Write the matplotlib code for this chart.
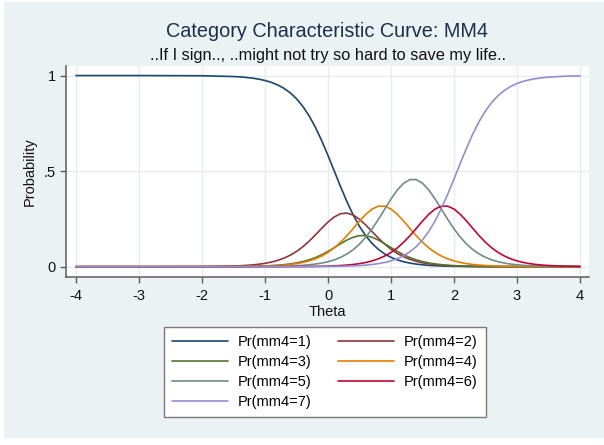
import matplotlib
matplotlib.use("Agg")
import matplotlib.pyplot as plt
from matplotlib.patches import Rectangle

plt.rcParams['font.family'] = ['Liberation Sans', 'DejaVu Sans']

# ---------------- data ----------------
theta = [-4.0, -3.0, -2.0, -1.5, -1.4, -1.3, -1.2, -1.1, -1.0, -0.9, -0.8, -0.7,
         -0.6, -0.5, -0.4, -0.3, -0.2, -0.1, 0.0, 0.1, 0.2, 0.3, 0.4, 0.5, 0.6,
         0.7, 0.8, 0.9, 1.0, 1.1, 1.2, 1.3, 1.4, 1.5, 1.6, 1.7, 1.8, 1.9, 2.0,
         2.1, 2.2, 2.3, 2.4, 2.5, 2.6, 2.7, 2.8, 2.9, 3.0, 3.1, 3.2, 3.3, 3.4,
         3.5, 3.75, 4.0]

pr_mm4_1 = [1.0, 1.0, .9990, .9949, .9930, .9902, .9865, .9813, .9742, .9644, .9512, .9334,
            .9097, .8787, .8389, .7892, .7291, .6592, .5818, .5000, .4182, .3408, .2709, .2108, .1611,
            .1213, .0903, .0666, .0488, .0356, .0258, .0187, .0135, .0098, .0070, .0051, .0037, .0026, .0019,
            .0014, .0010, .0007, .0005, .0004, .0003, .0002, .0002, .0001, .0001, 0, 0, 0, 0,
            0, 0, 0]
pr_mm4_2 = [0, 0, .0007, .0035, .0048, .0067, .0091, .0127, .0175, .0241, .0329, .0446,
            .0600, .0796, .1040, .1331, .1661, .2008, .2335, .2604, .2771, .2805, .2703, .2480, .2176,
            .1834, .1493, .1181, .0912, .0692, .0519, .0384, .0282, .0205, .0150, .0108, .0078, .0057, .0041,
            .0030, .0021, .0015, .0011, .0008, .0005, .0004, .0002, .0002, .0002, .0001, .0001, 0, 0,
            0, 0, 0]
pr_mm4_3 = [0, 0, .0001, .0008, .0010, .0015, .0022, .0029, .0039, .0055, .0076, .0105,
            .0144, .0197, .0268, .0360, .0477, .0623, .0799, .0996, .1200, .1391, .1541, .1625, .1625,
            .1541, .1391, .1200, .0996, .0799, .0623, .0477, .0360, .0268, .0197, .0144, .0105, .0076, .0055,
            .0039, .0029, .0022, .0015, .0010, .0008, .0006, .0004, .0003, .0002, .0001, .0001, .0001, .0001,
            0, 0, 0]
pr_mm4_4 = [0, 0, .0001, .0006, .0009, .0012, .0016, .0023, .0032, .0044, .0061, .0084,
            .0115, .0160, .0220, .0302, .0412, .0557, .0745, .0983, .1276, .1619, .1999, .2387, .2741,
            .3016, .3166, .3166, .3016, .2741, .2387, .1999, .1619, .1276, .0983, .0745, .0557, .0412, .0302,
            .0220, .0160, .0115, .0084, .0061, .0044, .0032, .0023, .0016, .0012, .0009, .0006, .0005, .0003,
            .0002, .0001, 0]
pr_mm4_5 = [0, 0, 0, .0002, .0003, .0003, .0005, .0007, .0010, .0014, .0019, .0027,
            .0038, .0052, .0071, .0099, .0137, .0189, .0259, .0357, .0488, .0662, .0889, .1180, .1544,
            .1979, .2476, .3010, .3540, .4012, .4366, .4557, .4557, .4366, .4012, .3540, .3010, .2476, .1979,
            .1544, .1180, .0889, .0662, .0488, .0357, .0259, .0189, .0137, .0099, .0071, .0052, .0038, .0027,
            .0019, .0009, .0004]
pr_mm4_6 = [0, 0, 0, 0, 0, .0001, .0001, .0001, .0002, .0001, .0002, .0003,
            .0004, .0006, .0009, .0012, .0016, .0023, .0032, .0044, .0061, .0084, .0115, .0160, .0220,
            .0302, .0412, .0557, .0745, .0983, .1276, .1619, .1999, .2387, .2741, .3016, .3166, .3166, .3016,
            .2741, .2387, .1999, .1619, .1276, .0983, .0745, .0557, .0412, .0302, .0220, .0160, .0115, .0084,
            .0061, .0027, .0012]
pr_mm4_7 = [0, 0, 0, 0, 0, 0, 0, 0, 0, .0001, .0001, .0001,
            .0002, .0002, .0003, .0004, .0006, .0008, .0012, .0016, .0022, .0031, .0044, .0060, .0083,
            .0115, .0159, .0220, .0303, .0417, .0571, .0777, .1048, .1400, .1847, .2396, .3047, .3787, .4588,
            .5412, .6213, .6953, .7604, .8153, .8600, .8952, .9223, .9429, .9583, .9697, .9780, .9841, .9885,
            .9917, .9963, .9984]

series_labels = ["Pr(mm4=1)", "Pr(mm4=2)", "Pr(mm4=3)", "Pr(mm4=4)",
                 "Pr(mm4=5)", "Pr(mm4=6)", "Pr(mm4=7)"]
series_values = [pr_mm4_1, pr_mm4_2, pr_mm4_3, pr_mm4_4, pr_mm4_5, pr_mm4_6, pr_mm4_7]
series_colors = ["#1a476f", "#90353b", "#55752f", "#e37e00",
                 "#6e8e84", "#c10534", "#938dd2"]

x_ticks = [-4, -3, -2, -1, 0, 1, 2, 3, 4]
x_tick_labels = ["-4", "-3", "-2", "-1", "0", "1", "2", "3", "4"]
y_ticks = [0, 0.5, 1]
y_tick_labels = ["0", ".5", "1"]

title = "Category Characteristic Curve: MM4"
subtitle = "..If I sign.., ..might not try so hard to save my life.."
x_label = "Theta"
y_label = "Probability"

# ---------------- figure ----------------
W, H = 604, 445
fig = plt.figure(figsize=(W / 100, H / 100), dpi=100)
fig.patch.set_facecolor("white")
bg = "#eaf2f3"
bg_rect = Rectangle((4 / W, 7 / H), 600 / W, 436 / H,
                    transform=fig.transFigure, facecolor=bg,
                    edgecolor="none", zorder=-10)
fig.add_artist(bg_rect)

ax = fig.add_axes([66 / W, (H - 277) / H, 523 / W, 211 / H])
ax.set_zorder(1)
ax.set_facecolor("white")
ax.set_xlim(-4.159, 4.143)
ax.set_ylim(-0.054, 1.05)

for s in ["top", "right"]:
    ax.spines[s].set_visible(False)
for s in ["left", "bottom"]:
    ax.spines[s].set_color("#5c5c5c")
    ax.spines[s].set_linewidth(1.1)

ax.set_xticks(x_ticks)
ax.set_xticklabels(x_tick_labels)
ax.set_yticks(y_ticks)
ax.set_yticklabels(y_tick_labels)
ax.tick_params(direction="out", length=4.5, width=1.0, color="#5c5c5c",
               labelsize=10.5, labelcolor="#111111")
ax.tick_params(axis="x", pad=4)
ax.tick_params(axis="y", pad=3)
ax.grid(True, color="#e3edf0", linewidth=1.0)
ax.set_axisbelow(True)

handles = []
for vals, lab, col in zip(series_values, series_labels, series_colors):
    ln, = ax.plot(theta, vals, color=col, lw=1.2, solid_joinstyle="round",
                  solid_capstyle="round", label=lab)
    handles.append(ln)

# texts
fig.text(327.5 / W, 1 - 36.7 / H, title, ha="center", va="baseline",
         fontsize=14.3, color="#1f2e4c")
fig.text(327.5 / W, 1 - 60 / H, subtitle, ha="center", va="baseline",
         fontsize=11.8, color="#111111")
fig.text(327.5 / W, 1 - 316 / H, x_label, ha="center", va="baseline",
         fontsize=10.5, color="#111111")
fig.text(30 / W, 1 - 172 / H, y_label, ha="center", va="center",
         rotation=90, fontsize=10.5, color="#111111")

# legend (row-wise order as in Stata: 1 2 / 3 4 / 5 6 / 7)
order = [0, 2, 4, 6, 1, 3, 5]
leg = fig.legend([handles[i] for i in order], [series_labels[i] for i in order],
                 ncol=2, loc="upper left", bbox_to_anchor=(164 / W, 1 - 327 / H),
                 bbox_transform=fig.transFigure, frameon=True, fancybox=False,
                 edgecolor="#7a7a7a", facecolor="white", framealpha=1,
                 fontsize=10.5, handlelength=3.84, handletextpad=0.68,
                 columnspacing=1.8, borderpad=0.55, labelspacing=0.42,
                 borderaxespad=0)
leg.set_zorder(5)
leg.get_frame().set_linewidth(1.0)

fig.savefig("out.png", dpi=100, facecolor=fig.get_facecolor())
